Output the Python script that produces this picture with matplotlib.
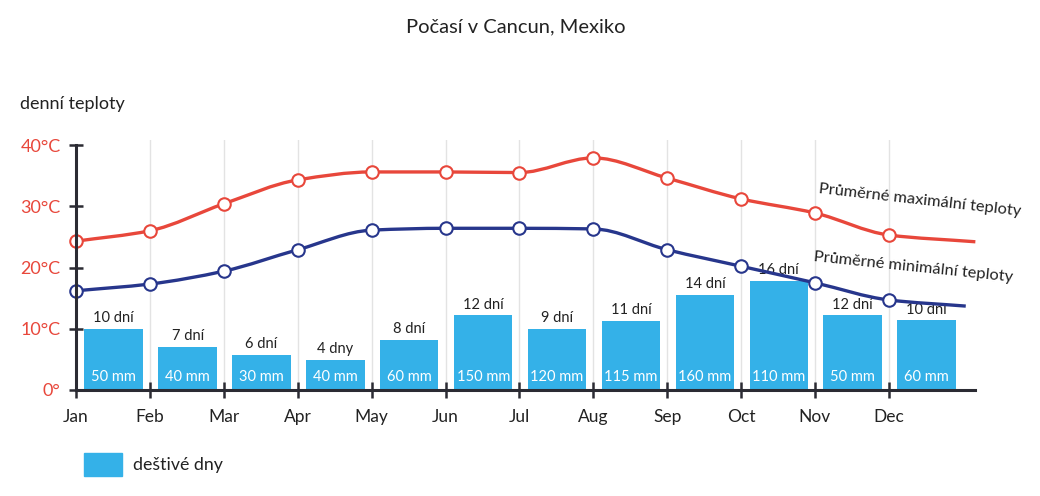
import numpy as np
import matplotlib
matplotlib.use("Agg")
import matplotlib.pyplot as plt
from matplotlib.path import Path
from matplotlib.patches import PathPatch, Rectangle

plt.rcParams['font.family'] = ['Lato', 'DejaVu Sans']

months = ['Jan', 'Feb', 'Mar', 'Apr', 'May', 'Jun', 'Jul', 'Aug', 'Sep', 'Oct', 'Nov', 'Dec']
# average max / min temperatures, last value is the tail after Dec
temp_max = [24.3, 26.0, 30.4, 34.3, 35.6, 35.6, 35.5, 37.9, 34.6, 31.2, 28.9, 25.3]
temp_max_tail = 24.2
temp_min = [16.2, 17.3, 19.4, 22.9, 26.1, 26.4, 26.4, 26.3, 22.9, 20.2, 17.5, 14.7]
temp_min_tail = 13.7
# bar heights as drawn (temperature axis units)
bar_height = [10.0, 7.0, 5.7, 4.9, 8.2, 12.2, 10.0, 11.3, 15.5, 17.8, 12.2, 11.4]
rain_days = ['10 dní', '7 dní', '6 dní', '4 dny', '8 dní', '12 dní', '9 dní', '11 dní',
             '14 dní', '16 dní', '12 dní', '10 dní']
rain_mm = ['50 mm', '40 mm', '30 mm', '40 mm', '60 mm', '150 mm', '120 mm', '115 mm',
           '160 mm', '110 mm', '50 mm', '60 mm']
ytick_vals = [0, 10, 20, 30, 40]
ytick_labels = ['0°', '10°C', '20°C', '30°C', '40°C']

RED = '#e8473b'
NAVY = '#27368c'
BAR = '#34b1e8'
TAIL_X = {'max': 12.17, 'min': 12.04}


def monotone_path(xs, ys):
    # monotone cubic (Fritsch-Carlson) as bezier path
    xs = np.asarray(xs, float)
    ys = np.asarray(ys, float)
    h = np.diff(xs)
    d = np.diff(ys) / h
    m = np.zeros_like(ys)
    m[0], m[-1] = d[0], d[-1]
    for i in range(1, len(xs) - 1):
        if d[i - 1] * d[i] <= 0:
            m[i] = 0
        else:
            w1 = 2 * h[i] + h[i - 1]
            w2 = h[i] + 2 * h[i - 1]
            m[i] = (w1 + w2) / (w1 / d[i - 1] + w2 / d[i])
    verts = [(xs[0], ys[0])]
    codes = [Path.MOVETO]
    for i in range(len(xs) - 1):
        verts += [(xs[i] + h[i] / 3, ys[i] + m[i] * h[i] / 3),
                  (xs[i + 1] - h[i] / 3, ys[i + 1] - m[i + 1] * h[i] / 3),
                  (xs[i + 1], ys[i + 1])]
        codes += [Path.CURVE4] * 3
    return Path(verts, codes)


fig = plt.figure(figsize=(10.4, 4.96), dpi=100)
ax = fig.add_axes([76 / 1040, 1 - 390 / 496, (1030 - 76) / 1040, 250 / 496])
x = np.arange(len(months))
ax.set_xlim(0, (1030 - 76) / 73.9)
ax.set_ylim(0, 250 / 6.125)

# vertical grid
for xi in x[1:]:
    ax.axvline(xi, color='#e3e3e3', lw=1, zorder=0)

bars = ax.bar(x + 0.51, bar_height, width=0.79, color=BAR, zorder=2)
for xi, hgt, dl, ml in zip(x, bar_height, rain_days, rain_mm):
    ax.text(xi + 0.51, hgt + 0.6, dl, ha='center', va='bottom', fontsize=10.5, color='#222222')
    ax.text(xi + 0.51, 2.2, ml, ha='center', va='center', fontsize=10.5, color='white')

for vals, tail, key, col in [(temp_max, temp_max_tail, 'max', RED), (temp_min, temp_min_tail, 'min', NAVY)]:
    xs = list(x) + [TAIL_X[key]]
    ys = list(vals) + [tail]
    ax.add_patch(PathPatch(monotone_path(xs, ys), fill=False, edgecolor=col, lw=2.4, zorder=3,
                           capstyle='butt'))
    ax.plot(x, vals, 'o', ms=9, mfc='white', mec=col, mew=1.5, zorder=4, clip_on=False)

ax.text(11.42, 30.9, 'Průměrné maximální teploty', rotation=-6.4, rotation_mode='anchor',
        ha='center', va='center', fontsize=11.8, color='#222222')
ax.text(11.33, 20.1, 'Průměrné minimální teploty', rotation=-5.9, rotation_mode='anchor',
        ha='center', va='center', fontsize=11.8, color='#222222')

for s in ['top', 'right']:
    ax.spines[s].set_visible(False)
ax.spines['left'].set_bounds(0, 40)
ax.spines['bottom'].set_bounds(0, 12.17)
for s in ['left', 'bottom']:
    ax.spines[s].set_color('#2b2b33')
    ax.spines[s].set_linewidth(2.2)
    ax.spines[s].set_zorder(5)

ax.set_yticks(ytick_vals)
ax.set_yticklabels(ytick_labels, color=RED, fontsize=13)
ax.set_xticks(x)
ax.set_xticklabels(months, fontsize=12.5, color='#222222')
ax.tick_params(axis='y', direction='inout', length=10, width=1.8, color='#2b2b33', pad=6)
ax.tick_params(axis='x', direction='inout', length=11, width=1.8, color='#2b2b33', pad=8)

fig.text(516 / 1040, 1 - 27 / 496, 'Počasí v Cancun, Mexiko', ha='center', va='center',
         fontsize=14.5, color='#222222')
fig.text(20 / 1040, 1 - 104 / 496, 'denní teploty', ha='left', va='center', fontsize=13,
         color='#222222')

# legend
fig.patches.append(Rectangle((84 / 1040, 1 - 476 / 496), 38 / 1040, 23 / 496,
                             transform=fig.transFigure, color=BAR))
fig.text(133 / 1040, 1 - 465 / 496, 'deštivé dny', ha='left', va='center', fontsize=12.8,
         color='#222222')

plt.savefig('out.png', dpi=100)
